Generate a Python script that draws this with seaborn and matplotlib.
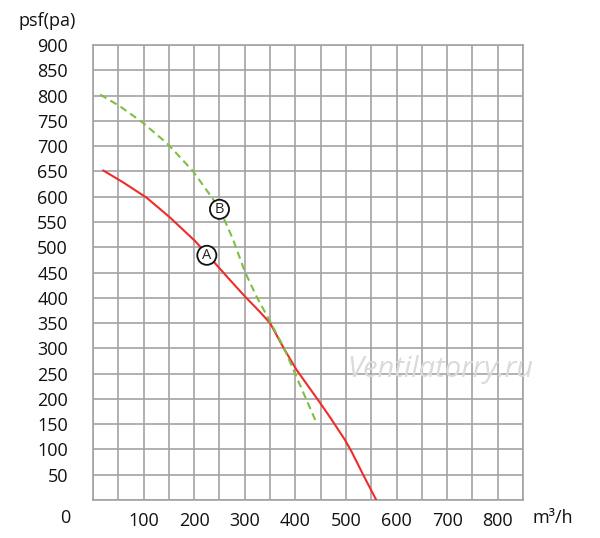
import numpy as np
import pandas as pd
import seaborn as sns
import matplotlib.pyplot as plt

# fan curves, flow m3/h vs static pressure Pa
flow_a = [20, 60, 106, 152, 202, 238, 270, 300, 330, 350, 376, 402, 449, 469, 498, 511, 534, 560]
psf_a = [652, 628, 598, 559, 512, 472, 436, 403, 372, 350, 302, 258, 192, 163, 119, 96, 50, 0]

flow_b = [14, 53, 99, 149, 198, 238, 258, 277, 300, 323, 350, 376, 399, 422, 443]
psf_b = [802, 779, 746, 703, 650, 594, 558, 515, 452, 403, 353, 304, 251, 198, 150]

x_ticks = list(range(0, 851, 50))
x_labels = [str(v) if v % 100 == 0 and 0 < v < 850 else "" for v in x_ticks]
y_ticks = list(range(0, 901, 50))
y_labels = [str(v) if v > 0 else "" for v in y_ticks]

df_a = pd.DataFrame({"flow": flow_a, "psf": psf_a})
df_b = pd.DataFrame({"flow": flow_b, "psf": psf_b})

sns.set_style("white")
plt.rcParams["font.family"] = ["Open Sans", "DejaVu Sans"]

fig = plt.figure(figsize=(6, 5.38), dpi=100)
ax = fig.add_axes([93 / 600, 38 / 538, 430 / 600, 455 / 538])

grid_col = "#a3a3a3"
sns.lineplot(data=df_a, x="flow", y="psf", ax=ax, color="#ef2b2b", linewidth=1.5, zorder=3)
sns.lineplot(data=df_b, x="flow", y="psf", ax=ax, color="#7cc043", linewidth=1.5,
             linestyle=(0, (3.5, 2.2)), zorder=3)

ax.set_xlim(0, 850)
ax.set_ylim(0, 900)
ax.set_xticks(x_ticks)
ax.set_xticklabels(x_labels)
ax.set_yticks(y_ticks)
ax.set_yticklabels(y_labels)
ax.tick_params(axis="both", length=0, labelsize=13, colors="#111111")
ax.tick_params(axis="y", pad=18)
ax.tick_params(axis="x", pad=9)
ax.grid(True, color=grid_col, linewidth=1.2)
for s in ax.spines.values():
    s.set_color(grid_col)
    s.set_linewidth(1.2)
ax.set_xlabel("")
ax.set_ylabel("")

ax.text(-0.053, -0.04, "0", transform=ax.transAxes, ha="right", va="center",
        fontsize=13, color="#111111")
ax.text(1.023, -0.04, "m³/h", transform=ax.transAxes, ha="left", va="center",
        fontsize=13, color="#111111")
fig.text(19 / 600, 1 - 21 / 538, "psf(pa)", ha="left", va="center",
         fontsize=13, color="#111111")

circ = dict(boxstyle="circle,pad=0.14", fc="white", ec="#111111", lw=1.3)
ax.text(250, 575, "B", ha="center", va="center", fontsize=10.5, bbox=circ, zorder=5)
ax.text(225, 484, "A", ha="center", va="center", fontsize=10.5, bbox=circ, zorder=5)

ax.text(686, 258, "Ventilatorry.ru", ha="center", va="center", fontsize=21,
        style="italic", color="#dadada", zorder=4)

plt.savefig("out.png", dpi=100)
